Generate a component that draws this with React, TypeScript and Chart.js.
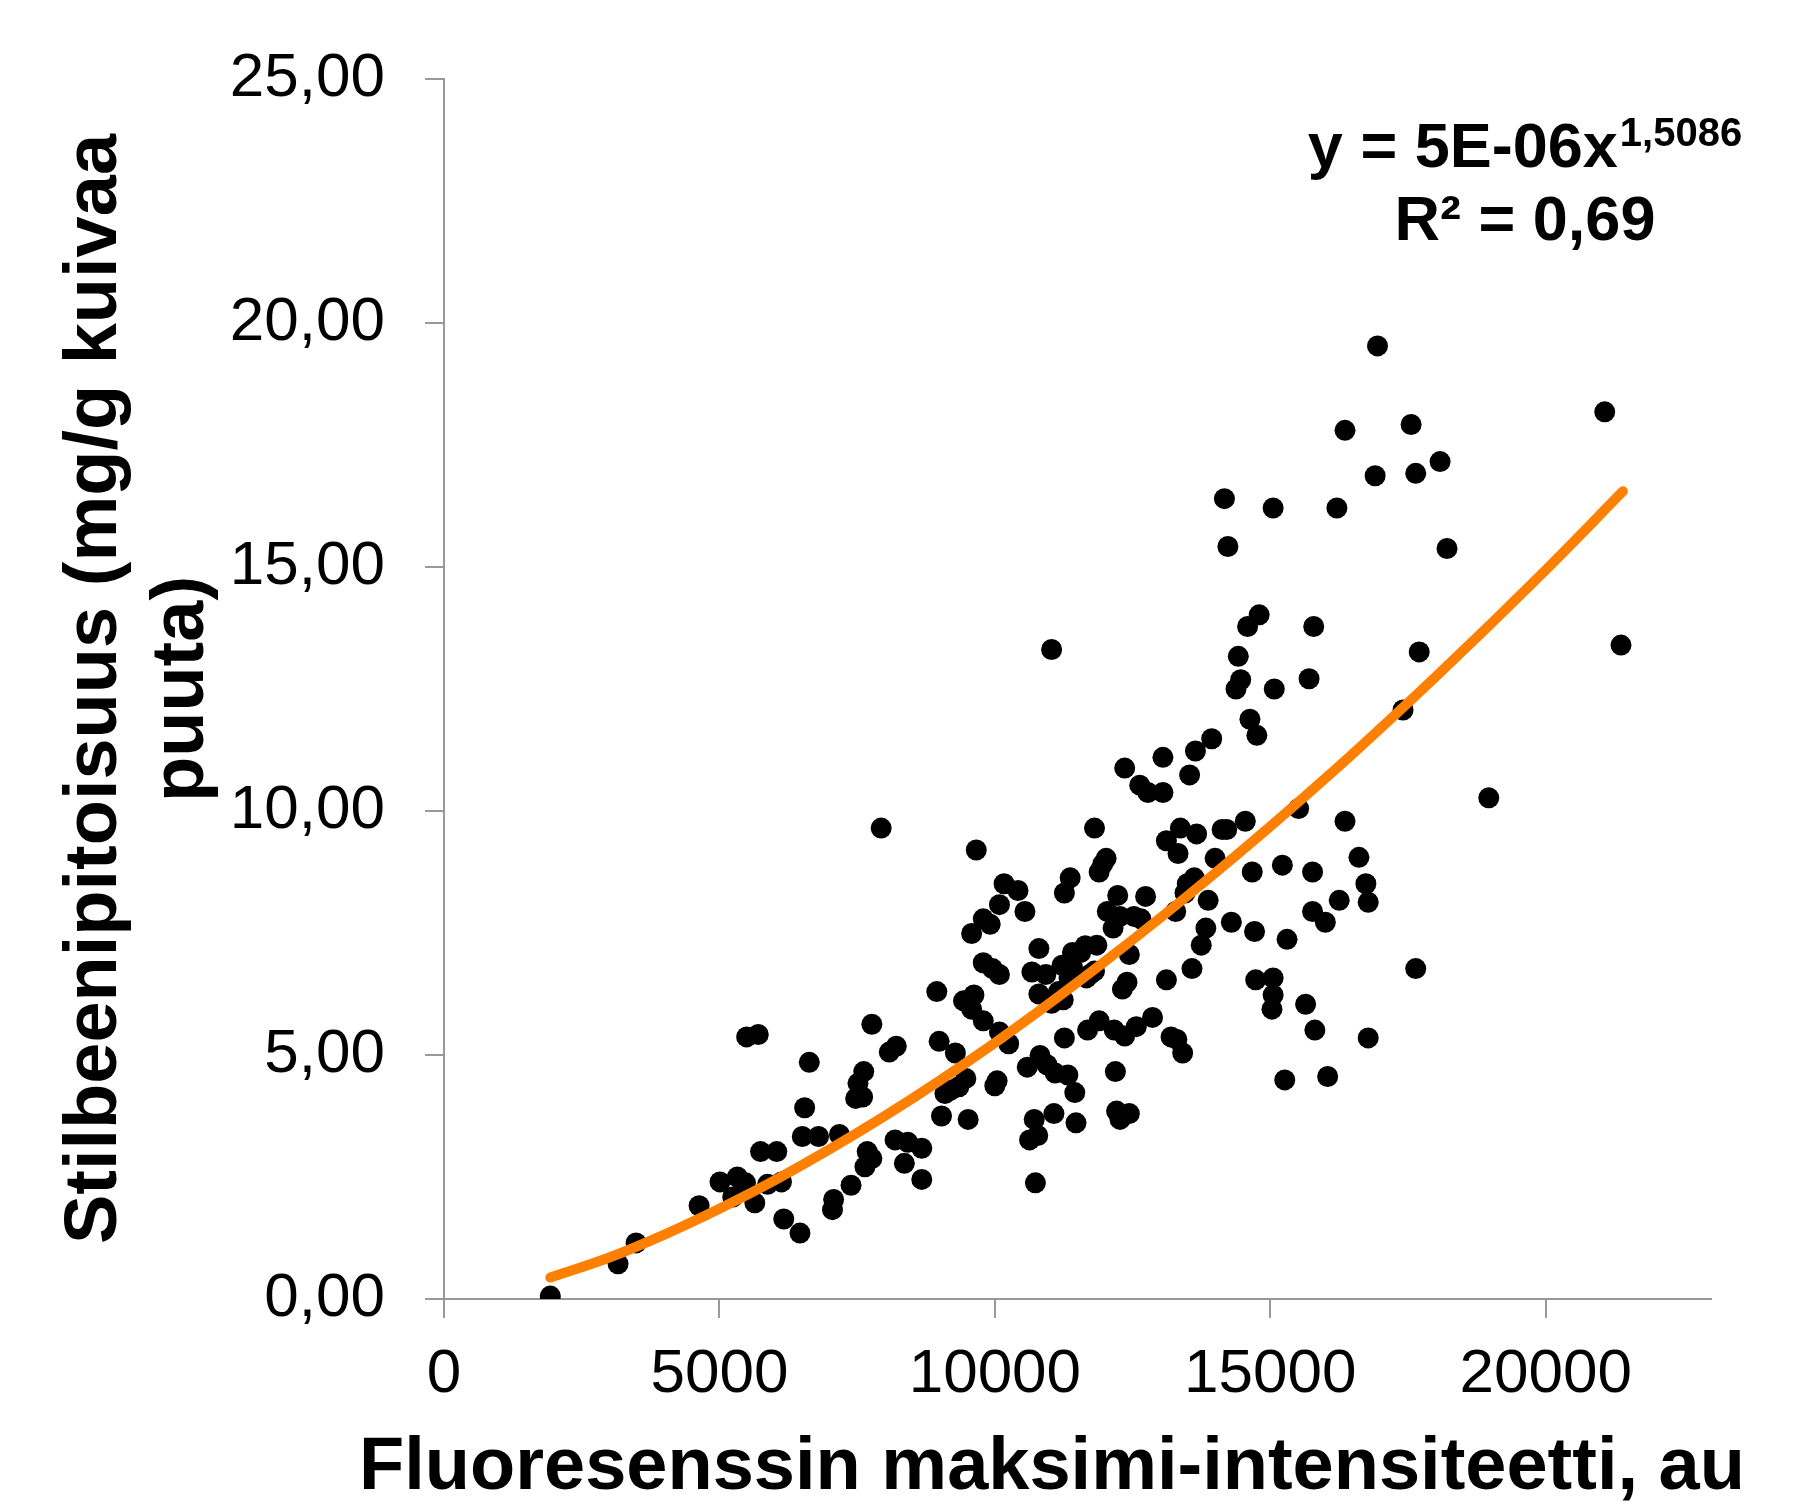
import { useEffect, useRef } from 'react';
import { Chart, registerables } from 'chart.js';

Chart.register(...registerables);

// Scatter data: fluorescence maximum intensity (au) vs stilbene content (mg/g dry wood)
const FLUOR_X = [
  1930, 3160, 3487, 4631, 5010, 5326, 5242, 5494, 5705, 5642,
  5747, 5873, 6041, 6126, 6168, 6462, 6504, 6547, 6631, 6799,
  7052, 7073, 7178, 7389, 7473, 7515, 7599, 7620, 7641, 7683,
  7767, 7767, 7936, 8083, 8210, 8188, 8357, 8420, 8673, 8673,
  8946, 8988, 9031, 9094, 9199, 9283, 9346, 9431, 9473, 9578,
  9578, 9620, 9662, 9515, 9789, 9789, 9789, 9915, 9957, 9999,
  10041, 10083, 10083, 10167, 10083, 10251, 10420, 10546, 10588, 10630,
  10672, 10714, 10736, 10778, 10799, 10799, 10820, 10925, 10946, 11030,
  11030, 11072, 11094, 11157, 11220, 11262, 11262, 11325, 11367, 11409,
  11409, 11451, 11473, 11557, 11641, 11683, 11725, 11809, 11851, 11893,
  11893, 11957, 12020, 12041, 12146, 12167, 12188, 12209, 12230, 12272,
  12272, 12315, 12357, 12357, 12399, 12441, 12441, 12525, 12567, 12630,
  12651, 12736, 12778, 12862, 13051, 13051, 13114, 13114, 13198, 13283,
  13304, 13325, 13367, 13409, 13451, 13493, 13535, 13578, 13620, 13641,
  13662, 13746, 13830, 13872, 13936, 13998, 14125, 14167, 14209, 14230,
  14293, 14377, 14419, 14462, 14546, 14588, 14630, 14672, 14714, 14735,
  14756, 14798, 15051, 15051, 15072, 15051, 15030, 15219, 15304, 15262,
  15514, 15641, 15704, 15767, 15767, 15788, 15809, 15999, 16041, 16209,
  16251, 16356, 16356, 16609, 16735, 16777, 16777, 16903, 16946, 17409,
  17556, 17640, 17640, 17703, 18082, 18208, 18966, 21071, 21366, 5473,
  11809, 11662, 11346, 11241,
];

const STILBENE_Y = [
  0.06, 0.72, 1.15, 1.91, 2.40, 2.50, 2.09, 5.37, 5.42, 1.97,
  3.02, 2.35, 3.02, 2.40, 1.64, 1.35, 3.33, 3.92, 4.85, 3.33,
  1.83, 2.04, 3.37, 2.33, 4.11, 4.42, 4.14, 4.66, 2.71, 3.02,
  5.63, 2.88, 9.65, 5.06, 5.18, 3.26, 2.78, 3.21, 2.45, 3.09,
  6.30, 5.28, 3.75, 4.21, 4.28, 5.04, 4.35, 6.11, 4.52, 5.94,
  7.49, 6.23, 9.20, 3.68, 7.79, 6.89, 5.70, 7.68, 6.77, 4.37,
  4.47, 8.08, 6.65, 8.51, 5.47, 5.23, 8.37, 7.94, 4.75, 3.26,
  6.70, 3.68, 2.38, 3.35, 7.18, 6.25, 4.99, 6.65, 4.80, 13.31,
  6.06, 3.80, 4.63, 6.30, 6.84, 8.32, 5.35, 4.59, 8.63, 6.79,
  7.10, 4.23, 3.61, 7.10, 7.24, 5.51, 6.65, 9.65, 7.25, 5.70,
  8.75, 8.91, 9.03, 7.94, 7.60, 5.51, 4.66, 3.85, 8.27, 3.68,
  7.84, 6.35, 5.39, 10.88, 6.49, 7.06, 3.80, 7.84, 5.58, 10.53,
  7.79, 8.25, 10.38, 5.77, 10.38, 11.10, 6.54, 9.39, 5.37, 7.94,
  5.32, 9.13, 9.65, 5.04, 8.32, 8.51, 10.74, 6.77, 8.63, 11.23,
  9.53, 7.25, 7.60, 8.17, 11.48, 9.03, 9.62, 16.40, 9.62, 15.42,
  7.72, 12.50, 13.17, 12.69, 9.79, 13.78, 11.88, 8.75, 7.53, 6.54,
  11.55, 14.02, 16.21, 6.58, 12.50, 6.23, 5.94, 8.89, 7.37, 4.49,
  10.05, 6.04, 12.71, 8.75, 7.94, 13.78, 5.51, 7.72, 4.56, 16.21,
  8.17, 17.80, 9.79, 9.05, 8.51, 8.13, 5.35, 16.87, 19.53, 12.07,
  17.92, 16.92, 6.77, 13.26, 17.16, 15.38, 10.27, 18.18, 13.40, 2.38,
  6.72, 6.58, 6.58, 6.13,
];

// Power trendline
const TREND_X = [1930, 3000, 4000, 5000, 6000, 8000, 10000, 12000, 14000, 16000, 18000, 20000, 21400];
const TREND_Y = [0.44, 0.85, 1.32, 1.85, 2.43, 3.75, 5.25, 6.92, 8.73, 10.67, 12.75, 14.94, 16.55];

const X_TICKS = [0, 5000, 10000, 15000, 20000];
const Y_TICKS = [0, 5, 10, 15, 20, 25];

const X_TITLE = 'Fluoresenssin maksimi-intensiteetti, au';
const Y_TITLE = ['Stilbeenipitoisuus (mg/g kuivaa', 'puuta)'];
const EQ_MAIN = 'y = 5E-06x';
const EQ_EXP = '1,5086';
const R2_TEXT = 'R² = 0,69';

const FONT = '"Liberation Sans", Arial, Helvetica, sans-serif';

const annotationPlugin = {
  id: 'equationText',
  afterDraw(chart: any) {
    const ctx = chart.ctx as CanvasRenderingContext2D;
    ctx.save();
    ctx.fillStyle = '#000000';
    ctx.textBaseline = 'alphabetic';
    ctx.textAlign = 'left';
    const mainFont = `bold 63px ${FONT}`;
    const supFont = `bold 40px ${FONT}`;
    ctx.font = mainFont;
    const w1 = ctx.measureText(EQ_MAIN).width;
    ctx.font = supFont;
    const w2 = ctx.measureText(EQ_EXP).width;
    const cx = 1525;
    const x0 = cx - (w1 + w2 + 2) / 2;
    ctx.font = mainFont;
    ctx.fillText(EQ_MAIN, x0, 167);
    ctx.font = supFont;
    ctx.fillText(EQ_EXP, x0 + w1 + 2, 146);
    ctx.font = mainFont;
    ctx.textAlign = 'center';
    ctx.fillText(R2_TEXT, cx, 240);

    // x-axis title (drawn here so it is not squeezed to the chart-area width)
    ctx.font = `bold 74px ${FONT}`;
    ctx.textAlign = 'center';
    ctx.fillText(X_TITLE, 1052, 1489);
    ctx.restore();
  },
};

export default function App() {
  const canvasRef = useRef<HTMLCanvasElement>(null);

  useEffect(() => {
    const canvas = canvasRef.current;
    if (!canvas) return;
    const points = FLUOR_X.map((x, i) => ({ x, y: STILBENE_Y[i] }));
    const trend = TREND_X.map((x, i) => ({ x, y: TREND_Y[i] }));

    const chart = new Chart(canvas, {
      type: 'scatter',
      data: {
        datasets: [
          {
            label: 'Trendline',
            data: trend,
            showLine: true,
            borderColor: '#FF8000',
            backgroundColor: '#FF8000',
            borderWidth: 10,
            borderCapStyle: 'round',
            borderJoinStyle: 'round',
            pointRadius: 0,
            pointHoverRadius: 0,
            cubicInterpolationMode: 'monotone',
            order: 0,
          } as any,
          {
            label: 'Mittaukset',
            data: points,
            backgroundColor: '#000000',
            borderColor: '#000000',
            borderWidth: 0,
            pointRadius: 10.5,
            pointHoverRadius: 10.5,
            order: 1,
          },
        ],
      },
      options: {
        responsive: true,
        maintainAspectRatio: false,
        animation: false,
        events: [],
        layout: { padding: { left: 0, top: 79, right: 107, bottom: 0 } },
        plugins: {
          legend: { display: false },
          tooltip: { enabled: false },
          title: { display: false },
        },
        scales: {
          x: {
            type: 'linear',
            min: 0,
            max: 23000,
            afterBuildTicks: (scale: any) => {
              scale.ticks = X_TICKS.map((v) => ({ value: v }));
            },
            afterFit: (scale: any) => {
              scale.height = 203;
            },
            ticks: {
              includeBounds: false,
              color: '#000000',
              font: { family: FONT, size: 62 },
              padding: 20,
              maxRotation: 0,
              autoSkip: false,
              callback: (v: any) => String(v),
            },
            grid: {
              display: true,
              drawOnChartArea: false,
              drawTicks: true,
              tickLength: 19,
              color: '#999999',
              lineWidth: 2,
            },
            border: { display: true, color: '#999999', width: 2 },
            title: { display: false },
          },
          y: {
            type: 'linear',
            min: 0,
            max: 25,
            afterBuildTicks: (scale: any) => {
              scale.ticks = Y_TICKS.map((v) => ({ value: v }));
            },
            afterFit: (scale: any) => {
              scale.width = 444;
            },
            ticks: {
              includeBounds: false,
              color: '#000000',
              font: { family: FONT, size: 62 },
              padding: 40,
              autoSkip: false,
              callback: (v: any) => Number(v).toFixed(2).replace('.', ','),
            },
            grid: {
              display: true,
              drawOnChartArea: false,
              drawTicks: true,
              tickLength: 19,
              color: '#999999',
              lineWidth: 2,
            },
            border: { display: true, color: '#999999', width: 2 },
            title: {
              display: true,
              text: Y_TITLE,
              color: '#000000',
              font: { family: FONT, size: 74, weight: 'bold', lineHeight: 1.176 },
              padding: { top: 52, bottom: 0 },
            },
          },
        },
      },
      plugins: [annotationPlugin],
    });

    return () => chart.destroy();
  }, []);

  return (
    <div
      style={{
        position: 'fixed',
        left: 0,
        top: 0,
        width: 1818,
        height: 1502,
        background: '#ffffff',
      }}
    >
      <canvas ref={canvasRef} />
    </div>
  );
}
